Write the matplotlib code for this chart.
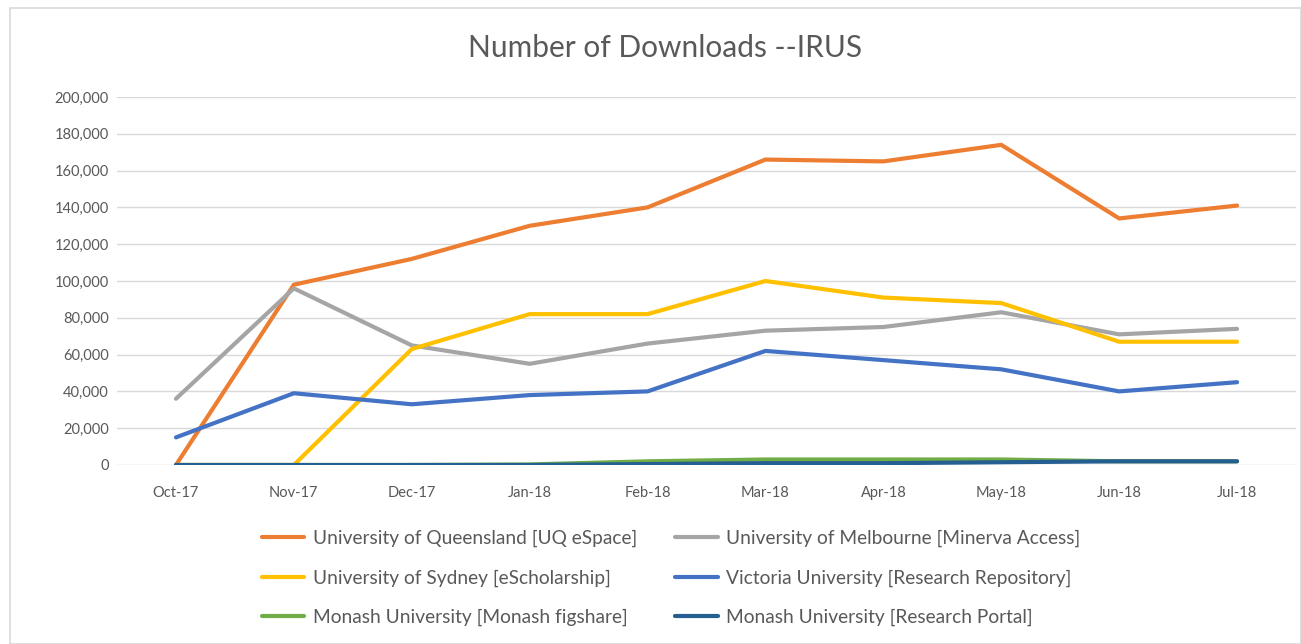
import matplotlib
matplotlib.use("Agg")
import matplotlib.pyplot as plt
from matplotlib.patches import Rectangle
from matplotlib.ticker import FuncFormatter

months = ["Oct-17", "Nov-17", "Dec-17", "Jan-18", "Feb-18", "Mar-18",
          "Apr-18", "May-18", "Jun-18", "Jul-18"]
uq = [0, 98000, 112000, 130000, 140000, 166000, 165000, 174000, 134000, 141000]
melb = [36000, 96000, 65000, 55000, 66000, 73000, 75000, 83000, 71000, 74000]
sydney = [0, 0, 63000, 82000, 82000, 100000, 91000, 88000, 67000, 67000]
victoria = [15000, 39000, 33000, 38000, 40000, 62000, 57000, 52000, 40000, 45000]
monash_fig = [0, 0, 0, 300, 2000, 3000, 3000, 3000, 2000, 2000]
monash_portal = [0, 0, 0, 0, 500, 1000, 1000, 1500, 2000, 2000]

labels = ["University of Queensland [UQ eSpace]",
          "University of Melbourne [Minerva Access]",
          "University of Sydney [eScholarship]",
          "Victoria University [Research Repository]",
          "Monash University [Monash figshare]",
          "Monash University [Research Portal]"]
series = [uq, melb, sydney, victoria, monash_fig, monash_portal]
colors = ["#ED7D31", "#A5A5A5", "#FFC000", "#4472C4", "#70AD47", "#255E91"]
yticks = list(range(0, 200001, 20000))

plt.rcParams['font.family'] = ['Lato', 'DejaVu Sans']
fig = plt.figure(figsize=(13.01, 6.44), dpi=100)
fig.patches.append(Rectangle((10/1301, 0), 1 - 10/1301, 1 - 8/644,
                             transform=fig.transFigure, fill=False,
                             edgecolor="#D9D9D9", lw=1.2))
ax = fig.add_axes([117/1301, 1 - 465/644, (1296 - 117)/1301, (465 - 97)/644])

x = list(range(len(months)))
handles = []
for s, c, lab in zip(series, colors, labels):
    h, = ax.plot(x, s, color=c, lw=3, label=lab, solid_capstyle='round',
                 solid_joinstyle='round')
    handles.append(h)

ax.set_xlim(-0.5, len(months) - 0.5)
ax.set_ylim(0, 200000)
ax.set_yticks(yticks)
ax.yaxis.set_major_formatter(FuncFormatter(lambda v, p: f"{int(v):,}"))
ax.set_xticks(x)
ax.set_xticklabels(months)
ax.grid(axis='y', color="#D9D9D9", lw=1)
ax.set_axisbelow(True)
for sp in ax.spines.values():
    sp.set_visible(False)
ax.tick_params(axis='both', length=0, labelsize=10.5, colors="#595959")
ax.tick_params(axis='x', pad=15)
ax.tick_params(axis='y', pad=6)

fig.text(665/1301, 1 - 48/644, "Number of Downloads --IRUS", ha='center', va='center',
         fontsize=21.5, color="#595959")

order = [0, 2, 4, 1, 3, 5]
fig.legend([handles[i] for i in order], [labels[i] for i in order], ncol=2,
           loc='center', bbox_to_anchor=(0.516, 1 - 578/644), frameon=False,
           fontsize=13.8, labelcolor="#595959", handlelength=2.2,
           handletextpad=0.45, columnspacing=2.0, labelspacing=1.15)

fig.savefig("out.png", dpi=100)
